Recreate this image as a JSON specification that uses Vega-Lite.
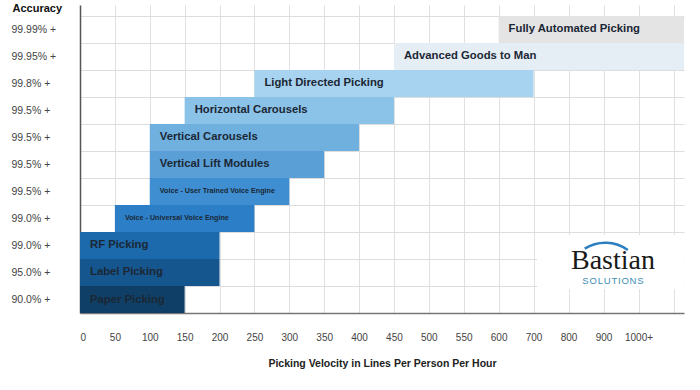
{
  "$schema": "https://vega.github.io/schema/vega-lite/v6.json",
  "autosize": {"type": "none"},
  "width": 604,
  "height": 308,
  "padding": {"left": 80, "top": 5, "right": 16, "bottom": 77},
  "background": "#ffffff",
  "config": {
    "view": {"stroke": null},
    "font": "Liberation Sans",
    "axisX": {
      "titleFontSize": 10.5,
      "titleFontWeight": "bold",
      "titleColor": "#222222",
      "titlePadding": 16,
      "labelFontSize": 10,
      "labelColor": "#444444",
      "labelPadding": 19,
      "labelDx": 3,
      "labelOverlap": false,
      "ticks": false,
      "tickSize": 0,
      "grid": true,
      "gridColor": "#e0e0e0",
      "gridWidth": 1,
      "domain": true,
      "domainColor": "#777777",
      "domainWidth": 1.5
    }
  },
  "data": {
    "values": [
      {"method": "Fully Automated Picking", "accuracy": "99.99% +", "start": 600, "end": 1130},
      {"method": "Advanced Goods to Man", "accuracy": "99.95% +", "start": 450, "end": 1130},
      {"method": "Light Directed Picking", "accuracy": "99.8% +", "start": 250, "end": 700},
      {"method": "Horizontal Carousels", "accuracy": "99.5% +", "start": 150, "end": 450},
      {"method": "Vertical Carousels", "accuracy": "99.5% +", "start": 100, "end": 400},
      {"method": "Vertical Lift Modules", "accuracy": "99.5% +", "start": 100, "end": 350},
      {"method": "Voice - User Trained Voice Engine", "accuracy": "99.5% +", "start": 100, "end": 300},
      {"method": "Voice - Universal Voice Engine", "accuracy": "99.0% +", "start": 50, "end": 250},
      {"method": "RF Picking", "accuracy": "99.0% +", "start": 0, "end": 200},
      {"method": "Label Picking", "accuracy": "95.0% +", "start": 0, "end": 200},
      {"method": "Paper Picking", "accuracy": "90.0% +", "start": 0, "end": 150}
    ]
  },
  "encoding": {
    "y": {
      "field": "method",
      "type": "nominal",
      "sort": null,
      "scale": {
        "domain": ["Fully Automated Picking", "Advanced Goods to Man", "Light Directed Picking", "Horizontal Carousels", "Vertical Carousels", "Vertical Lift Modules", "Voice - User Trained Voice Engine", "Voice - Universal Voice Engine", "RF Picking", "Label Picking", "Paper Picking"],
        "paddingInner": 0,
        "paddingOuter": 0.2037,
        "align": 1
      },
      "axis": {
        "title": "Accuracy",
        "titleAngle": 0,
        "titleAlign": "left",
        "titleBaseline": "middle",
        "titleX": -68,
        "titleY": 3,
        "titleFontSize": 11,
        "titleFontWeight": "bold",
        "titleColor": "#111111",
        "labelExpr": "{'Fully Automated Picking':'99.99% +','Advanced Goods to Man':'99.95% +','Light Directed Picking':'99.8% +','Horizontal Carousels':'99.5% +','Vertical Carousels':'99.5% +','Vertical Lift Modules':'99.5% +','Voice - User Trained Voice Engine':'99.5% +','Voice - Universal Voice Engine':'99.0% +','RF Picking':'99.0% +','Label Picking':'95.0% +','Paper Picking':'90.0% +'}[datum.value]",
        "labelAlign": "left",
        "labelPadding": 69,
        "labelFontSize": 10.5,
        "labelColor": "#444444",
        "ticks": false,
        "tickSize": 0,
        "tickBand": "extent",
        "grid": true,
        "gridColor": "#dddddd",
        "gridWidth": 1,
        "domain": true,
        "domainColor": "#555555",
        "domainWidth": 1.5,
        "zindex": 0
      }
    }
  },
  "layer": [
    {
      "mark": {"type": "bar"},
      "encoding": {
        "x": {
          "field": "start",
          "type": "quantitative",
          "scale": {"domain": [0, 600, 1130], "range": [0, 418.6, 604], "nice": false, "zero": false, "clamp": true},
          "axis": {
            "title": "Picking Velocity in Lines Per Person Per Hour",
            "values": [0, 50, 100, 150, 200, 250, 300, 350, 400, 450, 500, 550, 600, 700, 800, 900, 1000, 1100],
            "labelExpr": "datum.value == 1000 ? '1000+' : (datum.value == 1100 ? '' : datum.label)",
            "zindex": 0
          }
        },
        "x2": {"field": "end"},
        "color": {
          "field": "method",
          "type": "nominal",
          "legend": null,
          "scale": {
            "domain": ["Fully Automated Picking", "Advanced Goods to Man", "Light Directed Picking", "Horizontal Carousels", "Vertical Carousels", "Vertical Lift Modules", "Voice - User Trained Voice Engine", "Voice - Universal Voice Engine", "RF Picking", "Label Picking", "Paper Picking"],
            "range": ["#e4e4e4", "#e6eef5", "#a8d3f0", "#8ac2e8", "#70b0df", "#5a9fd6", "#3e8ed1", "#2c7fc6", "#1c69ac", "#16568f", "#0f3f66"]
          }
        }
      }
    },
    {
      "mark": {"type": "text", "align": "left", "baseline": "middle", "dx": 10, "fontWeight": "bold", "color": "#1b2734"},
      "encoding": {
        "x": {
          "field": "start",
          "type": "quantitative",
          "axis": {
            "title": "Picking Velocity in Lines Per Person Per Hour",
            "values": [0, 50, 100, 150, 200, 250, 300, 350, 400, 450, 500, 550, 600, 700, 800, 900, 1000, 1100],
            "labelExpr": "datum.value == 1000 ? '1000+' : (datum.value == 1100 ? '' : datum.label)",
            "zindex": 0
          }
        },
        "text": {"field": "method"},
        "size": {
          "condition": {"test": "indexof(datum.method, 'Voice') == 0", "value": 7.2},
          "value": 11.3
        }
      }
    },
    {
      "data": {"values": [{"row": "RF Picking"}, {"row": "Label Picking"}]},
      "mark": {"type": "rect", "color": "#ffffff", "yOffset": 3},
      "encoding": {
        "x": {
          "datum": 710,
          "type": "quantitative",
          "axis": {
            "title": "Picking Velocity in Lines Per Person Per Hour",
            "values": [0, 50, 100, 150, 200, 250, 300, 350, 400, 450, 500, 550, 600, 700, 800, 900, 1000, 1100],
            "labelExpr": "datum.value == 1000 ? '1000+' : (datum.value == 1100 ? '' : datum.label)",
            "zindex": 0
          }
        },
        "x2": {"datum": 1130},
        "y": {"field": "row", "type": "nominal"}
      }
    },
    {
      "data": {"values": [{}]},
      "mark": {"type": "text", "font": "Liberation Serif", "fontSize": 28, "color": "#1a1a1a", "align": "center", "baseline": "alphabetic", "dy": -3.5},
      "encoding": {
        "x": {
          "datum": 927,
          "type": "quantitative",
          "axis": {
            "title": "Picking Velocity in Lines Per Person Per Hour",
            "values": [0, 50, 100, 150, 200, 250, 300, 350, 400, 450, 500, 550, 600, 700, 800, 900, 1000, 1100],
            "labelExpr": "datum.value == 1000 ? '1000+' : (datum.value == 1100 ? '' : datum.label)",
            "zindex": 0
          }
        },
        "y": {"datum": "Label Picking", "type": "nominal"},
        "text": {"value": "Bastian"}
      }
    },
    {
      "data": {"values": [{}]},
      "mark": {"type": "text", "fontSize": 9.5, "color": "#3c8db5", "align": "center", "baseline": "middle", "dy": 8.5},
      "encoding": {
        "x": {
          "datum": 927,
          "type": "quantitative",
          "axis": {
            "title": "Picking Velocity in Lines Per Person Per Hour",
            "values": [0, 50, 100, 150, 200, 250, 300, 350, 400, 450, 500, 550, 600, 700, 800, 900, 1000, 1100],
            "labelExpr": "datum.value == 1000 ? '1000+' : (datum.value == 1100 ? '' : datum.label)",
            "zindex": 0
          }
        },
        "y": {"datum": "Label Picking", "type": "nominal"},
        "text": {"value": "S\u200aO\u200aL\u200aU\u200aT\u200aI\u200aO\u200aN\u200aS"}
      }
    },
    {
      "data": {"values": [{}]},
      "mark": {"type": "arc", "color": "#2b7fc0", "radius": 40, "radius2": 37.5, "theta": -0.56, "theta2": 0.62, "yOffset": 9},
      "encoding": {
        "x": {
          "datum": 905,
          "type": "quantitative",
          "axis": {
            "title": "Picking Velocity in Lines Per Person Per Hour",
            "values": [0, 50, 100, 150, 200, 250, 300, 350, 400, 450, 500, 550, 600, 700, 800, 900, 1000, 1100],
            "labelExpr": "datum.value == 1000 ? '1000+' : (datum.value == 1100 ? '' : datum.label)",
            "zindex": 0
          }
        },
        "y": {"datum": "Label Picking", "type": "nominal"}
      }
    }
  ]
}
